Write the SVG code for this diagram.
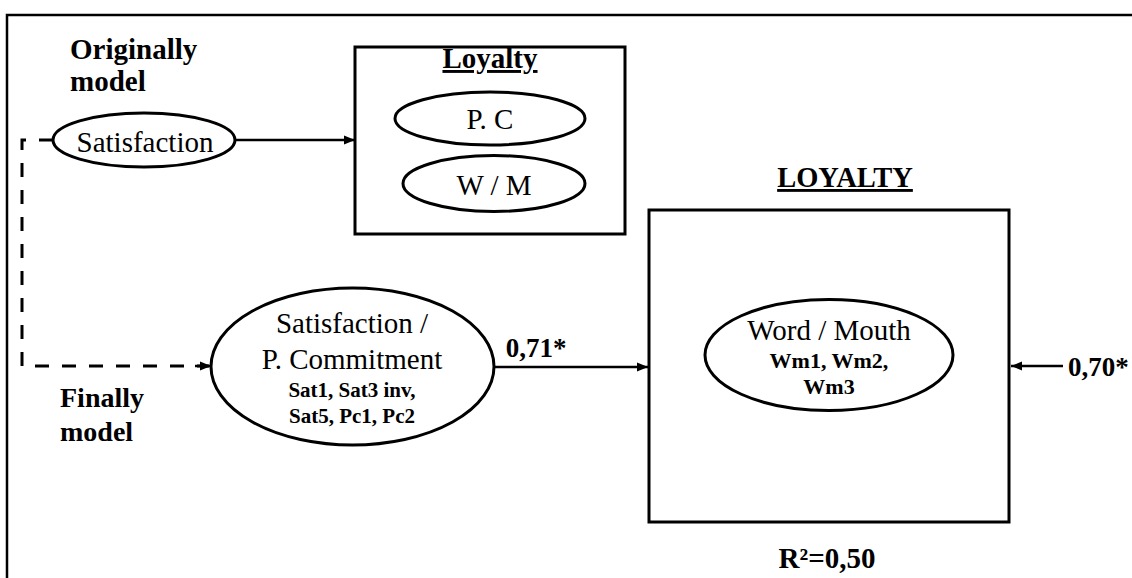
<svg xmlns="http://www.w3.org/2000/svg" width="1132" height="578" viewBox="0 0 1132 578">
<defs>
<style>
.t{font-family:'Liberation Serif','DejaVu Serif',serif;fill:#000}
.b{font-weight:bold}
.sh{fill:#fff;stroke:#000;stroke-width:3}
.ln{fill:none;stroke:#000;stroke-width:2.5}
.dash{fill:none;stroke:#000;stroke-width:3;stroke-dasharray:14 13}
</style>
<marker id="ah" markerUnits="userSpaceOnUse" markerWidth="12" markerHeight="10" refX="11" refY="5" orient="auto">
<path d="M0,0.5 L11,5 L0,9.5 z" fill="#000"/>
</marker>
</defs>
<rect width="1132" height="578" fill="#fff"/>
<path d="M7 578 V15 H1132" fill="none" stroke="#000" stroke-width="2.5"/>

<g id="labels">
<text class="t b" x="70" y="59" font-size="29">Originally</text>
<text class="t b" x="70" y="91" font-size="29">model</text>
<text class="t b" x="60" y="407" font-size="28">Finally</text>
<text class="t b" x="60" y="441" font-size="28">model</text>
<text class="t b" x="536" y="357" font-size="27" text-anchor="middle">0,71*</text>
<text class="t b" x="1068" y="376" font-size="27">0,70*</text>
<text class="t b" x="827" y="568" font-size="29" text-anchor="middle">R²=0,50</text>
</g>

<g id="connectors">
<line class="ln" x1="235" y1="140" x2="355" y2="140" marker-end="url(#ah)"/>
<path class="dash" d="M53 140 H22 V366 H209"/>
<line x1="195" y1="366" x2="211" y2="366" stroke="#000" stroke-width="2.5" marker-end="url(#ah)"/>
<line class="ln" x1="494" y1="367" x2="648" y2="367" marker-end="url(#ah)"/>
<line class="ln" x1="1063" y1="366" x2="1011" y2="366" marker-end="url(#ah)"/>
</g>

<g id="satisfaction">
<ellipse class="sh" cx="144" cy="140" rx="91" ry="27"/>
<text class="t" x="145" y="152" font-size="29" text-anchor="middle">Satisfaction</text>
</g>

<g id="loyalty-original">
<rect class="sh" x="355" y="47" width="270" height="187"/>
<text class="t b" x="490" y="68" font-size="29" text-anchor="middle" text-decoration="underline">Loyalty</text>
<g id="pc">
<ellipse class="sh" cx="490" cy="118.5" rx="95" ry="26.5"/>
<text class="t" x="490" y="129" font-size="29" text-anchor="middle">P. C</text>
</g>
<g id="wm">
<ellipse class="sh" cx="494" cy="183.5" rx="91" ry="28"/>
<text class="t" x="494" y="195" font-size="29" text-anchor="middle">W / M</text>
</g>
</g>

<g id="sat-commitment">
<ellipse class="sh" cx="352.5" cy="366.5" rx="141.5" ry="78.5"/>
<text class="t" x="352" y="333" font-size="29" text-anchor="middle">Satisfaction /</text>
<text class="t" x="352" y="369" font-size="29" text-anchor="middle">P. Commitment</text>
<text class="t b" x="352" y="397" font-size="21" text-anchor="middle">Sat1, Sat3 inv,</text>
<text class="t b" x="352" y="423" font-size="21" text-anchor="middle">Sat5, Pc1, Pc2</text>
</g>

<g id="loyalty-final">
<text class="t b" x="845" y="187" font-size="28.5" text-anchor="middle" text-decoration="underline">LOYALTY</text>
<rect class="sh" x="649" y="210" width="360" height="312"/>
<g id="word-mouth">
<ellipse class="sh" cx="829" cy="355" rx="124" ry="55.5"/>
<text class="t" x="829" y="340" font-size="29" text-anchor="middle">Word / Mouth</text>
<text class="t b" x="829" y="368" font-size="22" text-anchor="middle">Wm1, Wm2,</text>
<text class="t b" x="829" y="394" font-size="22" text-anchor="middle">Wm3</text>
</g>
</g>
</svg>
